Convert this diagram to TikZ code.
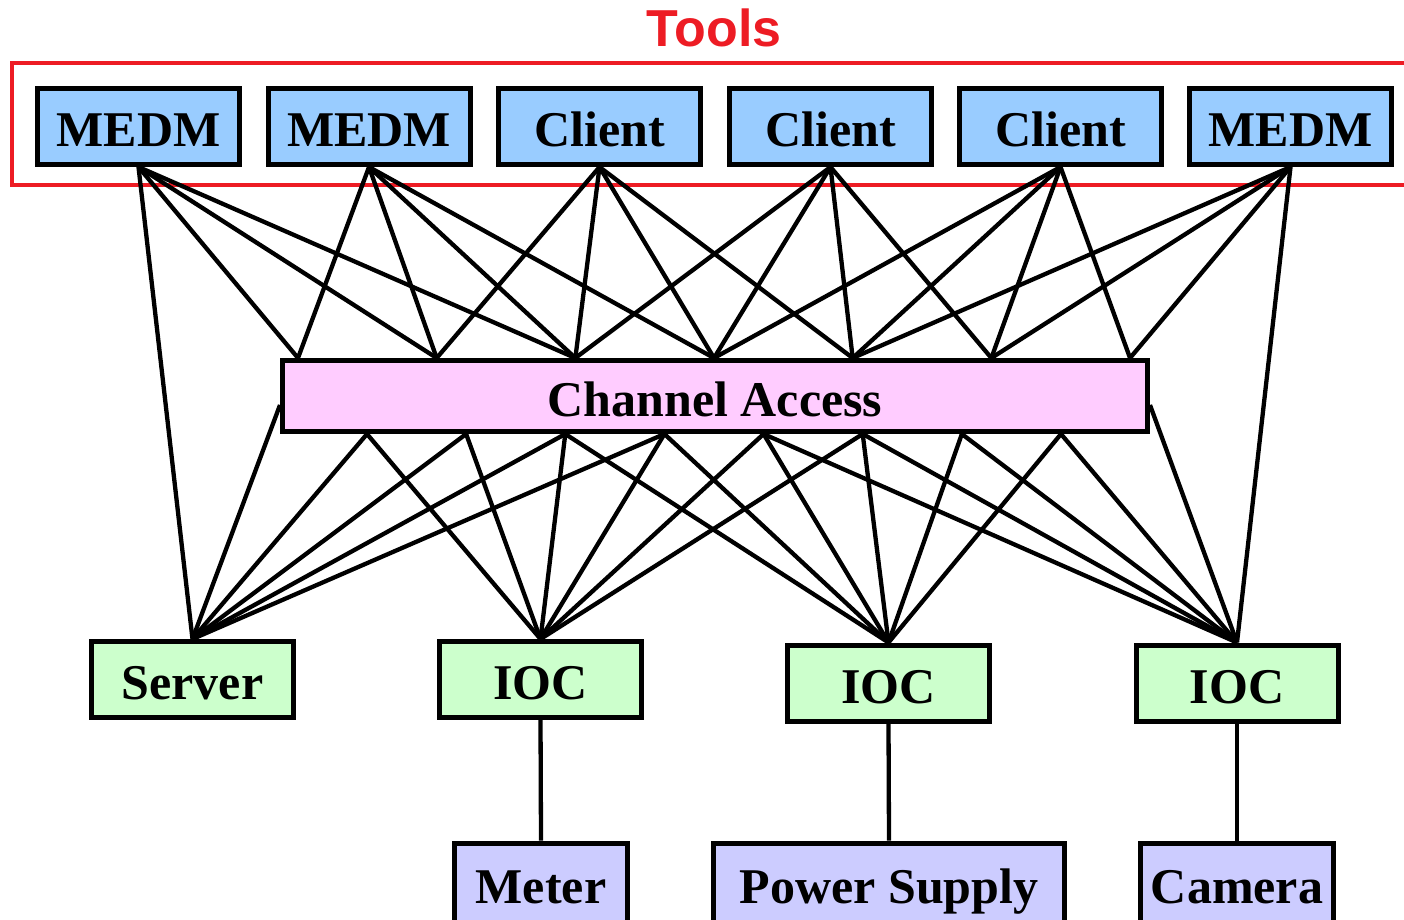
\documentclass[tikz,border=0pt]{standalone}
\usepackage{fontspec}
\setmainfont{Liberation Serif}
\newfontfamily\toolsfont{Liberation Sans}
\usetikzlibrary{calc}
\definecolor{toolred}{HTML}{ED1C24}
\definecolor{toolblue}{HTML}{99CCFF}
\definecolor{capink}{HTML}{FFCCFF}
\definecolor{iocgreen}{HTML}{CCFFCC}
\definecolor{devpurple}{HTML}{CCCCFF}

\begin{document}
\begin{tikzpicture}[x=1pt, y=-1pt,
		box/.style={draw, line width=5pt, inner sep=0pt, minimum width=202pt, minimum height=76pt,
			text height=40pt, text depth=0pt, font=\fontsize{50}{50}\selectfont\bfseries},
		wire/.style={line width=4.3pt}]
			%%%%% START %%%%%
			\useasboundingbox (0, 0) rectangle (1404, 919);
			
			% tools
			\node[anchor=base, text=toolred, font=\fontsize{52}{52}\selectfont\toolsfont\bfseries] (tools) at (714, 46) {Tools};
			\draw[toolred, line width=4pt] (12, 63) rectangle (1412, 185);
			\foreach \k/\x/\t in {1/138.5/MEDM, 2/369/MEDM, 3/599.5/Client, 4/830.5/Client, 5/1060.5/Client, 6/1290.5/MEDM}
				\node[box, fill=toolblue] (top\k) at (\x, 126.5) {\t};
			
			% channel access
			\node[box, fill=capink, minimum width=865pt, minimum height=71pt] (ca) at (715, 396) {Channel Access};
			
			% servers and iocs
			\node[box, fill=iocgreen] (sv) at (192.5, 679.5) {Server};
			\node[box, fill=iocgreen] (ioc1) at (540.5, 679.5) {IOC};
			\node[box, fill=iocgreen] (ioc2) at (888.5, 683) {IOC};
			\node[box, fill=iocgreen] (ioc3) at (1237, 683) {IOC};
			
			% devices
			\node[box, fill=devpurple, minimum width=173pt, minimum height=80pt] (meter) at (541, 883) {Meter};
			\node[box, fill=devpurple, minimum width=351pt, minimum height=80pt] (psu) at (889, 883) {Power Supply};
			\node[box, fill=devpurple, minimum width=193pt, minimum height=80pt] (cam) at (1237, 883) {Camera};
			
			% points on channel access
			\coordinate (ct0) at (sv.north);
			\coordinate (ct8) at (ioc3.north);
			\foreach \i in {1,...,7}
				\coordinate (ct\i) at ($(ca.north west)+({18+138.67*(\i-1)}, 0)$);
			\coordinate (cb0) at ($(ca.west)+(0, 9)$);
			\coordinate (cb9) at ($(ca.east)+(0, 9)$);
			\foreach \i in {1,...,8}
				\coordinate (cb\i) at ($(ca.south west)+({87+99.14*(\i-1)}, 0)$);
			
			% tools to channel access
			\foreach \k in {1,...,6}
				\foreach \j in {-1,...,2}
				{
					\pgfmathtruncatemacro{\p}{\k+\j}
					\draw[wire] (top\k.south) -- (ct\p);
				}
			
			% channel access to servers and iocs
			\foreach \n/\a/\b in {sv/0/4, ioc1/1/6, ioc2/3/8, ioc3/5/9}
				\foreach \j in {\a,...,\b}
					\draw[wire] (\n.north) -- (cb\j);
			
			\draw[wire] (ioc1.south) -- (meter.north);
			\draw[wire] (ioc2.south) -- (psu.north);
			\draw[wire] (ioc3.south) -- (cam.north);
			%%%%% END %%%%%
\end{tikzpicture}
\end{document}
